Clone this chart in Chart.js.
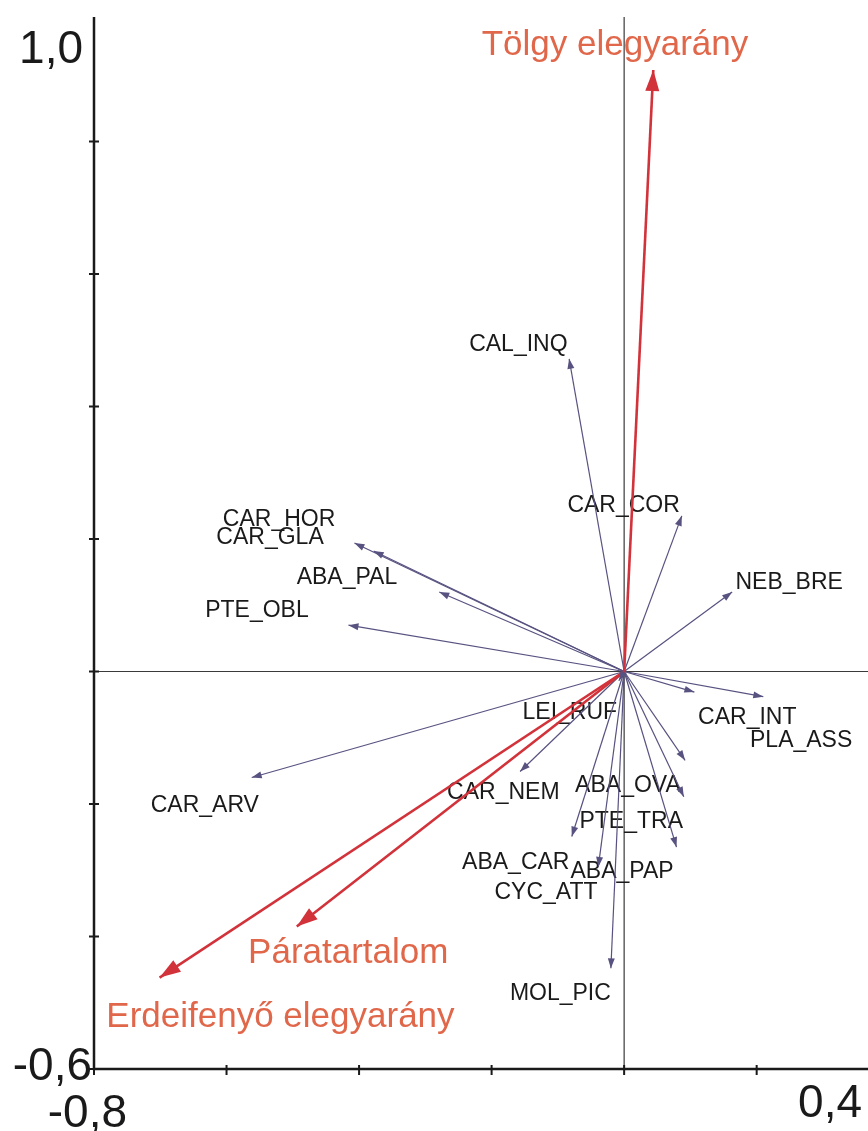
<!DOCTYPE html>
<html>
<head>
<meta charset="utf-8">
<script src="https://cdn.jsdelivr.net/npm/chart.js@4.4.0/dist/chart.umd.min.js"></script>
<style>
  html, body { margin: 0; padding: 0; background: #ffffff; }
  #wrap { width: 868px; height: 1131px; position: relative; }
  canvas { display: block; }
</style>
</head>
<body>
<div id="wrap"><canvas id="biplot" width="868" height="1131"></canvas></div>
<script>
// Species scores on the first two ordination axes
const speciesNames = ['CAL_INQ', 'CAR_COR', 'NEB_BRE', 'CAR_HOR', 'CAR_GLA', 'ABA_PAL', 'PTE_OBL',
  'CAR_ARV', 'LEI_RUF', 'CAR_NEM', 'CAR_INT', 'PLA_ASS', 'ABA_OVA', 'PTE_TRA', 'ABA_PAP',
  'ABA_CAR', 'CYC_ATT', 'MOL_PIC'];
const speciesX = [-0.083, 0.087, 0.163, -0.407, -0.378, -0.279, -0.416,
  -0.562, -0.008, -0.157, 0.106, 0.210, 0.092, 0.090, 0.079,
  -0.079, -0.039, -0.020];
const speciesY = [0.472, 0.235, 0.120, 0.194, 0.182, 0.120, 0.070,
  -0.160, -0.014, -0.151, -0.031, -0.038, -0.134, -0.189, -0.265,
  -0.249, -0.295, -0.448];

// Environmental variables (biplot arrows)
const envNames = ['Tölgy elegyarány', 'Páratartalom', 'Erdeifenyő elegyarány'];
const envX = [0.044, -0.494, -0.701];
const envY = [0.908, -0.385, -0.462];

// Axis ticks and the labels written at the ends of the axes
const xTicks = [-0.8, -0.6, -0.4, -0.2, 0, 0.2];
const yTicks = [-0.6, -0.4, -0.2, 0, 0.2, 0.4, 0.6, 0.8];
const xEndLabels = ['-0,8', '0,4'];
const yEndLabels = ['-0,6', '1,0'];

// Text placement: offset of each label's start / baseline from its arrow tip (px)
const speciesLabelOffset = [
  [-100, -8], [-114.4, -4.3], [3.3, -3.4], [-131.6, -17.3], [-157.3, -6.7], [-142.6, -8.4], [-143.3, -7.7],
  [-101, 34.4], [-96.3, 38.3], [-73, 27.6], [3.7, 31.7], [-13.3, 50.6], [-110, 31.7], [-104.3, 31.6], [-106, 31],
  [-109.7, 32.6], [-103.8, 31.6], [-101, 31.7]
];
const envLabelOffset = [[-171.6, -15], [-48.7, 36], [-53.3, 49.3]];

const SPECIES_COLOR = '#575280';
const ENV_COLOR = '#d2323a';
const ENV_TEXT = '#e0674a';
const TEXT_COLOR = '#1a1a1a';
const FONT = '"Liberation Sans", Arial, Helvetica, sans-serif';

const datasets = [];
envNames.forEach((name, i) => {
  datasets.push({
    label: name,
    kind: 'env',
    idx: i,
    data: [{ x: 0, y: 0 }, { x: envX[i], y: envY[i] }],
    showLine: true,
    borderColor: ENV_COLOR,
    borderWidth: 2.6,
    pointRadius: 0,
    order: 0
  });
});
speciesNames.forEach((name, i) => {
  datasets.push({
    label: name,
    kind: 'sp',
    idx: i,
    data: [{ x: 0, y: 0 }, { x: speciesX[i], y: speciesY[i] }],
    showLine: true,
    borderColor: SPECIES_COLOR,
    borderWidth: 1.2,
    pointRadius: 0,
    order: 1
  });
});

function arrowHead(ctx, x0, y0, x1, y1, len, width, color) {
  const a = Math.atan2(y1 - y0, x1 - x0);
  const bx = x1 - len * Math.cos(a), by = y1 - len * Math.sin(a);
  const nx = -Math.sin(a) * width / 2, ny = Math.cos(a) * width / 2;
  ctx.beginPath();
  ctx.moveTo(x1, y1);
  ctx.lineTo(bx + nx, by + ny);
  ctx.lineTo(bx - nx, by - ny);
  ctx.closePath();
  ctx.fillStyle = color;
  ctx.fill();
}

const biplotDecor = {
  id: 'biplotDecor',
  beforeDatasetsDraw(chart) {
    const ctx = chart.ctx;
    const { left, right, top, bottom } = chart.chartArea;
    const xs = chart.scales.x, ys = chart.scales.y;
    ctx.save();
    // zero lines through the origin
    ctx.strokeStyle = '#3a3a3a';
    ctx.lineWidth = 1.2;
    const x0 = xs.getPixelForValue(0), y0 = ys.getPixelForValue(0);
    ctx.beginPath();
    ctx.moveTo(x0, top); ctx.lineTo(x0, bottom);
    ctx.moveTo(left, y0); ctx.lineTo(right, y0);
    ctx.stroke();
    // species names
    ctx.font = '23px ' + FONT;
    ctx.fillStyle = TEXT_COLOR;
    ctx.textAlign = 'left';
    ctx.textBaseline = 'alphabetic';
    speciesNames.forEach((name, i) => {
      const px = xs.getPixelForValue(speciesX[i]);
      const py = ys.getPixelForValue(speciesY[i]);
      ctx.fillText(name, px + speciesLabelOffset[i][0], py + speciesLabelOffset[i][1]);
    });
    ctx.restore();
  },
  afterDatasetsDraw(chart) {
    const ctx = chart.ctx;
    const { left, right, top, bottom } = chart.chartArea;
    const xs = chart.scales.x, ys = chart.scales.y;
    ctx.save();
    // arrow heads, species first, environmental on top
    ['sp', 'env'].forEach(kind => {
      chart.data.datasets.forEach((ds, di) => {
        if (ds.kind !== kind) return;
        const pts = chart.getDatasetMeta(di).data;
        const p0 = pts[0], p1 = pts[1];
        if (kind === 'sp') arrowHead(ctx, p0.x, p0.y, p1.x, p1.y, 10, 7, SPECIES_COLOR);
        else arrowHead(ctx, p0.x, p0.y, p1.x, p1.y, 21, 14, ENV_COLOR);
      });
    });
    // environmental variable names
    ctx.font = '35px ' + FONT;
    ctx.fillStyle = ENV_TEXT;
    ctx.textAlign = 'left';
    ctx.textBaseline = 'alphabetic';
    envNames.forEach((name, i) => {
      const px = xs.getPixelForValue(envX[i]);
      const py = ys.getPixelForValue(envY[i]);
      ctx.fillText(name, px + envLabelOffset[i][0], py + envLabelOffset[i][1]);
    });
    // left and bottom axes with crossing tick marks
    ctx.strokeStyle = '#1a1a1a';
    ctx.lineWidth = 2.5;
    ctx.beginPath();
    ctx.moveTo(left, top); ctx.lineTo(left, bottom);
    ctx.moveTo(left - 1.2, bottom); ctx.lineTo(right, bottom);
    ctx.stroke();
    ctx.lineWidth = 2;
    ctx.beginPath();
    yTicks.forEach(v => {
      const py = ys.getPixelForValue(v);
      ctx.moveTo(left - 5, py); ctx.lineTo(left + 5, py);
    });
    xTicks.forEach(v => {
      const px = xs.getPixelForValue(v);
      ctx.moveTo(px, bottom - 4); ctx.lineTo(px, bottom + 6);
    });
    ctx.stroke();
    // axis end labels
    ctx.font = '46px ' + FONT;
    ctx.fillStyle = TEXT_COLOR;
    ctx.textAlign = 'right';
    ctx.fillText(yEndLabels[1], left - 11, top + 46);
    ctx.fillText(yEndLabels[0], left - 2, bottom + 11);
    ctx.fillText(xEndLabels[0], left + 33, bottom + 58);
    ctx.fillText(xEndLabels[1], right - 6, bottom + 48);
    ctx.restore();
  }
};

new Chart(document.getElementById('biplot'), {
  type: 'scatter',
  data: { datasets },
  options: {
    responsive: false,
    devicePixelRatio: 1,
    animation: false,
    layout: { padding: { left: 94, right: 0, top: 17, bottom: 62 } },
    scales: {
      x: { type: 'linear', min: -0.8, max: 0.368, display: false },
      y: { type: 'linear', min: -0.6, max: 0.988, display: false }
    },
    plugins: { legend: { display: false }, tooltip: { enabled: false } }
  },
  plugins: [biplotDecor]
});
</script>
</body>
</html>
